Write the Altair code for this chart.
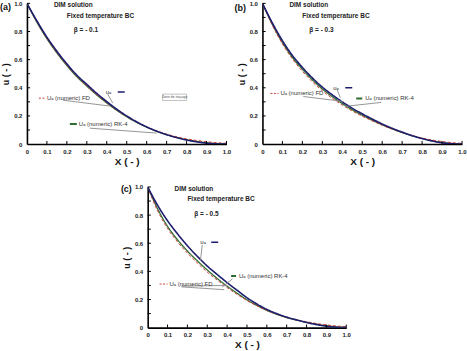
import altair as alt
import pandas as pd

FONT = "Liberation Sans"
NAVY = "#1c1c6e"
GREEN = "#2e6b2e"
RED = "#d0403a"
GRAY = "#8a8a8a"

X = [0.0, 0.05, 0.1, 0.15, 0.2, 0.25, 0.3, 0.35, 0.4, 0.45, 0.5,
     0.55, 0.6, 0.65, 0.7, 0.75, 0.8, 0.85, 0.9, 0.95, 1.0]

# panel (a) beta = -0.1
navy_a = [1.0, 0.875, 0.76, 0.66, 0.57, 0.49, 0.424, 0.36, 0.302, 0.248, 0.2,
          0.158, 0.122, 0.092, 0.067, 0.046, 0.029, 0.016, 0.006, 0.001, 0.0]
rk4_a = [1.0, 0.866, 0.749, 0.648, 0.558, 0.479, 0.412, 0.349, 0.292, 0.24, 0.194,
         0.154, 0.12, 0.091, 0.067, 0.047, 0.031, 0.019, 0.01, 0.004, 0.001]
fd_a = [1.0, 0.868, 0.751, 0.65, 0.56, 0.481, 0.413, 0.35, 0.294, 0.242, 0.196,
        0.156, 0.122, 0.094, 0.071, 0.052, 0.037, 0.026, 0.017, 0.01, 0.006]

# panel (b) beta = -0.3
navy_b = [1.0, 0.86, 0.735, 0.63, 0.545, 0.47, 0.405, 0.35, 0.30, 0.255, 0.215,
          0.178, 0.143, 0.112, 0.085, 0.06, 0.039, 0.022, 0.009, 0.002, 0.0]
rk4_b = [1.0, 0.85, 0.722, 0.617, 0.532, 0.457, 0.392, 0.337, 0.288, 0.244, 0.205,
         0.17, 0.137, 0.108, 0.082, 0.059, 0.04, 0.024, 0.012, 0.005, 0.001]
fd_b = [1.0, 0.843, 0.712, 0.605, 0.518, 0.443, 0.379, 0.325, 0.277, 0.235, 0.198,
        0.165, 0.134, 0.106, 0.082, 0.061, 0.043, 0.029, 0.018, 0.01, 0.005]

# panel (c) beta = -0.5
navy_c = [1.0, 0.87, 0.76, 0.667, 0.582, 0.507, 0.438, 0.378, 0.32, 0.266, 0.213,
          0.168, 0.13, 0.1, 0.075, 0.055, 0.037, 0.022, 0.01, 0.003, 0.0]
rk4_c = [1.0, 0.845, 0.72, 0.625, 0.545, 0.475, 0.41, 0.35, 0.295, 0.245, 0.198,
         0.158, 0.123, 0.095, 0.072, 0.054, 0.038, 0.025, 0.014, 0.006, 0.002]
fd_c = [1.0, 0.83, 0.705, 0.61, 0.53, 0.46, 0.395, 0.338, 0.285, 0.237, 0.193,
        0.155, 0.122, 0.095, 0.073, 0.056, 0.042, 0.03, 0.02, 0.012, 0.007]

X_TICKS = [0.0, 0.1, 0.2, 0.3, 0.4, 0.5, 0.6, 0.7, 0.8, 0.9, 1.0]
Y_LABELS = [0.0, 0.2, 0.4, 0.6, 0.8, 1.0]
MINOR = [0.1, 0.2, 0.3, 0.4, 0.5, 0.6, 0.7, 0.8, 0.9, 1.0]

HEADER_TEXT = ["DIM  solution", "Fixed temperature BC"]
HEADER_X = [0.135, 0.2]
HEADER_U = [0.985, 0.912]
BETA_X, BETA_U = 0.235, 0.81

ann = {
    "a": dict(tag="(a)", tag_x=-0.135, tag_u=0.975, beta="\u03b2 = - 0.1",
              ua=(0.395, 0.37), ua_line=(0.455, 0.49, 0.37),
              fd_text=(0.1, 0.326), fd_line=(0.06, 0.09, 0.326),
              rk_text=(0.26, 0.142), rk_line=(0.215, 0.25, 0.142),
              leaders=[(0.405, 0.355, 0.43, 0.29),
                       (0.18, 0.312, 0.415, 0.27),
                       (0.315, 0.113, 0.65, 0.078)],
              zone=True),
    "b": dict(tag="(b)", tag_x=-0.14, tag_u=0.97, beta="\u03b2 = - 0.3",
              ua=(0.355, 0.40), ua_line=(0.415, 0.45, 0.40),
              fd_text=(0.09, 0.36), fd_line=(0.04, 0.08, 0.36),
              rk_text=(0.515, 0.324), rk_line=(0.47, 0.5, 0.324),
              leaders=[(0.375, 0.385, 0.39, 0.33),
                       (0.205, 0.338, 0.405, 0.303),
                       (0.595, 0.296, 0.415, 0.268)],
              zone=False),
    "c": dict(tag="(c)", tag_x=-0.135, tag_u=0.985, beta="\u03b2 = - 0.5",
              ua=(0.265, 0.608), ua_line=(0.32, 0.355, 0.608),
              fd_text=(0.11, 0.31), fd_line=(0.06, 0.1, 0.31),
              rk_text=(0.46, 0.368), rk_line=(0.42, 0.445, 0.368),
              leaders=[(0.275, 0.588, 0.266, 0.48),
                       (0.427, 0.347, 0.376, 0.29),
                       (0.17, 0.29, 0.385, 0.27),
                       (0.17, 0.295, 0.40, 0.30)],
              zone=False),
}

XS = alt.Scale(domain=[0, 1], nice=False, zero=False)
YS = alt.Scale(domain=[0, 1], nice=False, zero=False)
LBL = "datum.value == 0 ? '0' : format(datum.value, '.1f')"

XAXIS = alt.Axis(values=X_TICKS, labelExpr=LBL, ticks=False, grid=False,
                 domainColor="black", domainWidth=1.6, labelFont=FONT,
                 labelFontWeight="bold", labelFontSize=6, labelPadding=4,
                 labelColor="#222", title="X ( - )", titleFont=FONT,
                 titleFontSize=10, titleFontWeight="bold", titlePadding=2,
                 titleColor="#111", labelFlush=False, labelOverlap=False)
YAXIS = alt.Axis(values=Y_LABELS, labelExpr=LBL, ticks=False, grid=False,
                 domainColor="black", domainWidth=1.6, labelFont=FONT,
                 labelFontWeight="bold", labelFontSize=6, labelPadding=5,
                 labelColor="#222", title="u ( - )", titleFont=FONT,
                 titleFontSize=9, titleFontWeight="bold", titlePadding=3,
                 titleColor="#111", labelFlush=False, labelOverlap=False)


def ex(f):
    return alt.X(f, scale=XS, axis=XAXIS)


def ey(f):
    return alt.Y(f, scale=YS, axis=YAXIS)


def panel(key, navy, rk4, fd):
    a = ann[key]

    def curve(vals, color, width, dash):
        df = pd.DataFrame({"x": X, "u": vals})
        return alt.Chart(df).mark_line(interpolate="monotone", color=color,
                                       strokeWidth=width, strokeDash=dash,
                                       clip=True).encode(x=ex("x:Q"), y=ey("u:Q"))

    layers = [curve(rk4, GREEN, 1.3, [1, 0]),
              curve(fd, RED, 1.0, [3, 2]),
              curve(navy, NAVY, 1.6, [1, 0])]

    # inward ticks
    xt = pd.DataFrame({"t": MINOR, "z": [0.0] * len(MINOR),
                       "hx": [0.022] * len(MINOR), "hy": [0.016] * len(MINOR)})
    layers.append(alt.Chart(xt).mark_rule(color="black", strokeWidth=1).encode(
        x=ex("t:Q"), y=ey("z:Q"), y2="hx:Q"))
    layers.append(alt.Chart(xt).mark_rule(color="black", strokeWidth=1).encode(
        y=ey("t:Q"), x=ex("z:Q"), x2="hy:Q"))

    # leader lines
    ld = pd.DataFrame(a["leaders"], columns=["x1", "u1", "x2", "u2"])
    layers.append(alt.Chart(ld).mark_rule(color=GRAY, strokeWidth=0.9).encode(
        x=ex("x1:Q"), y=ey("u1:Q"), x2="x2:Q", y2="u2:Q"))

    # sample lines next to labels
    for (x1, x2, u), col, dash, w in [(a["ua_line"], NAVY, [1, 0], 1.5),
                                      (a["fd_line"], RED, [2, 1.5], 1.0),
                                      (a["rk_line"], GREEN, [1, 0], 2.0)]:
        sd = pd.DataFrame({"x1": [x1], "x2": [x2], "u": [u]})
        layers.append(alt.Chart(sd).mark_rule(color=col, strokeWidth=w,
                                              strokeDash=dash).encode(
            x=ex("x1:Q"), x2="x2:Q", y=ey("u:Q")))

    texts = pd.DataFrame({
        "x": [a["ua"][0], a["fd_text"][0], a["rk_text"][0]],
        "u": [a["ua"][1], a["fd_text"][1], a["rk_text"][1]],
        "t": ["u\u2090", "U\u2090 (numeric) FD", "U\u2090 (numeric) RK-4"],
    })
    layers.append(alt.Chart(texts).mark_text(align="left", baseline="middle",
                                             font=FONT, fontSize=6, color="#333").encode(
        x=ex("x:Q"), y=ey("u:Q"), text="t:N"))

    hdr = pd.DataFrame({"x": HEADER_X, "u": HEADER_U, "t": HEADER_TEXT})
    layers.append(alt.Chart(hdr).mark_text(align="left", baseline="middle",
                                           font=FONT, fontSize=6.5, fontWeight="bold",
                                           color="#222").encode(
        x=ex("x:Q"), y=ey("u:Q"), text="t:N"))
    bd = pd.DataFrame({"x": [BETA_X], "u": [BETA_U], "t": [a["beta"]]})
    layers.append(alt.Chart(bd).mark_text(align="left", baseline="middle",
                                          font=FONT, fontSize=6.5, fontWeight="bold",
                                          color="#222").encode(
        x=ex("x:Q"), y=ey("u:Q"), text="t:N"))
    tg = pd.DataFrame({"x": [a["tag_x"]], "u": [a["tag_u"]], "t": [a["tag"]]})
    layers.append(alt.Chart(tg).mark_text(align="left", baseline="middle",
                                          font=FONT, fontSize=9, fontWeight="bold",
                                          color="#111").encode(
        x=ex("x:Q"), y=ey("u:Q"), text="t:N"))

    if a["zone"]:
        zd = pd.DataFrame({"x1": [0.68], "x2": [0.8], "u1": [0.31], "u2": [0.355],
                           "xm": [0.74], "um": [0.3325], "t": ["Zone de tra\u00e7age"]})
        layers.append(alt.Chart(zd).mark_rect(fill="white", stroke="#999",
                                              strokeWidth=0.6).encode(
            x=ex("x1:Q"), x2="x2:Q", y=ey("u1:Q"), y2="u2:Q"))
        layers.append(alt.Chart(zd).mark_text(font=FONT, fontSize=3.5,
                                              color="#555").encode(
            x=ex("xm:Q"), y=ey("um:Q"), text="t:N"))

    return alt.layer(*layers)


pa = panel("a", navy_a, rk4_a, fd_a).properties(width=200, height=141)
pb = panel("b", navy_b, rk4_b, fd_b).properties(width=200, height=141)
pc = panel("c", navy_c, rk4_c, fd_c).properties(width=199, height=141)

spacer = alt.Chart(pd.DataFrame({"v": [0]})).mark_point(opacity=0).encode(
    x=alt.X("v:Q", axis=None), y=alt.Y("v:Q", axis=None)).properties(width=100, height=141)

top = alt.hconcat(pa, pb, spacing=36, bounds="flush")
bottom = alt.hconcat(spacer, pc, spacing=21, bounds="flush")
chart = alt.vconcat(top, bottom, spacing=18).configure_view(
    stroke=None).properties(padding=0, background="white")

chart.save("out.html", embed_options={"renderer": "svg", "actions": False})
